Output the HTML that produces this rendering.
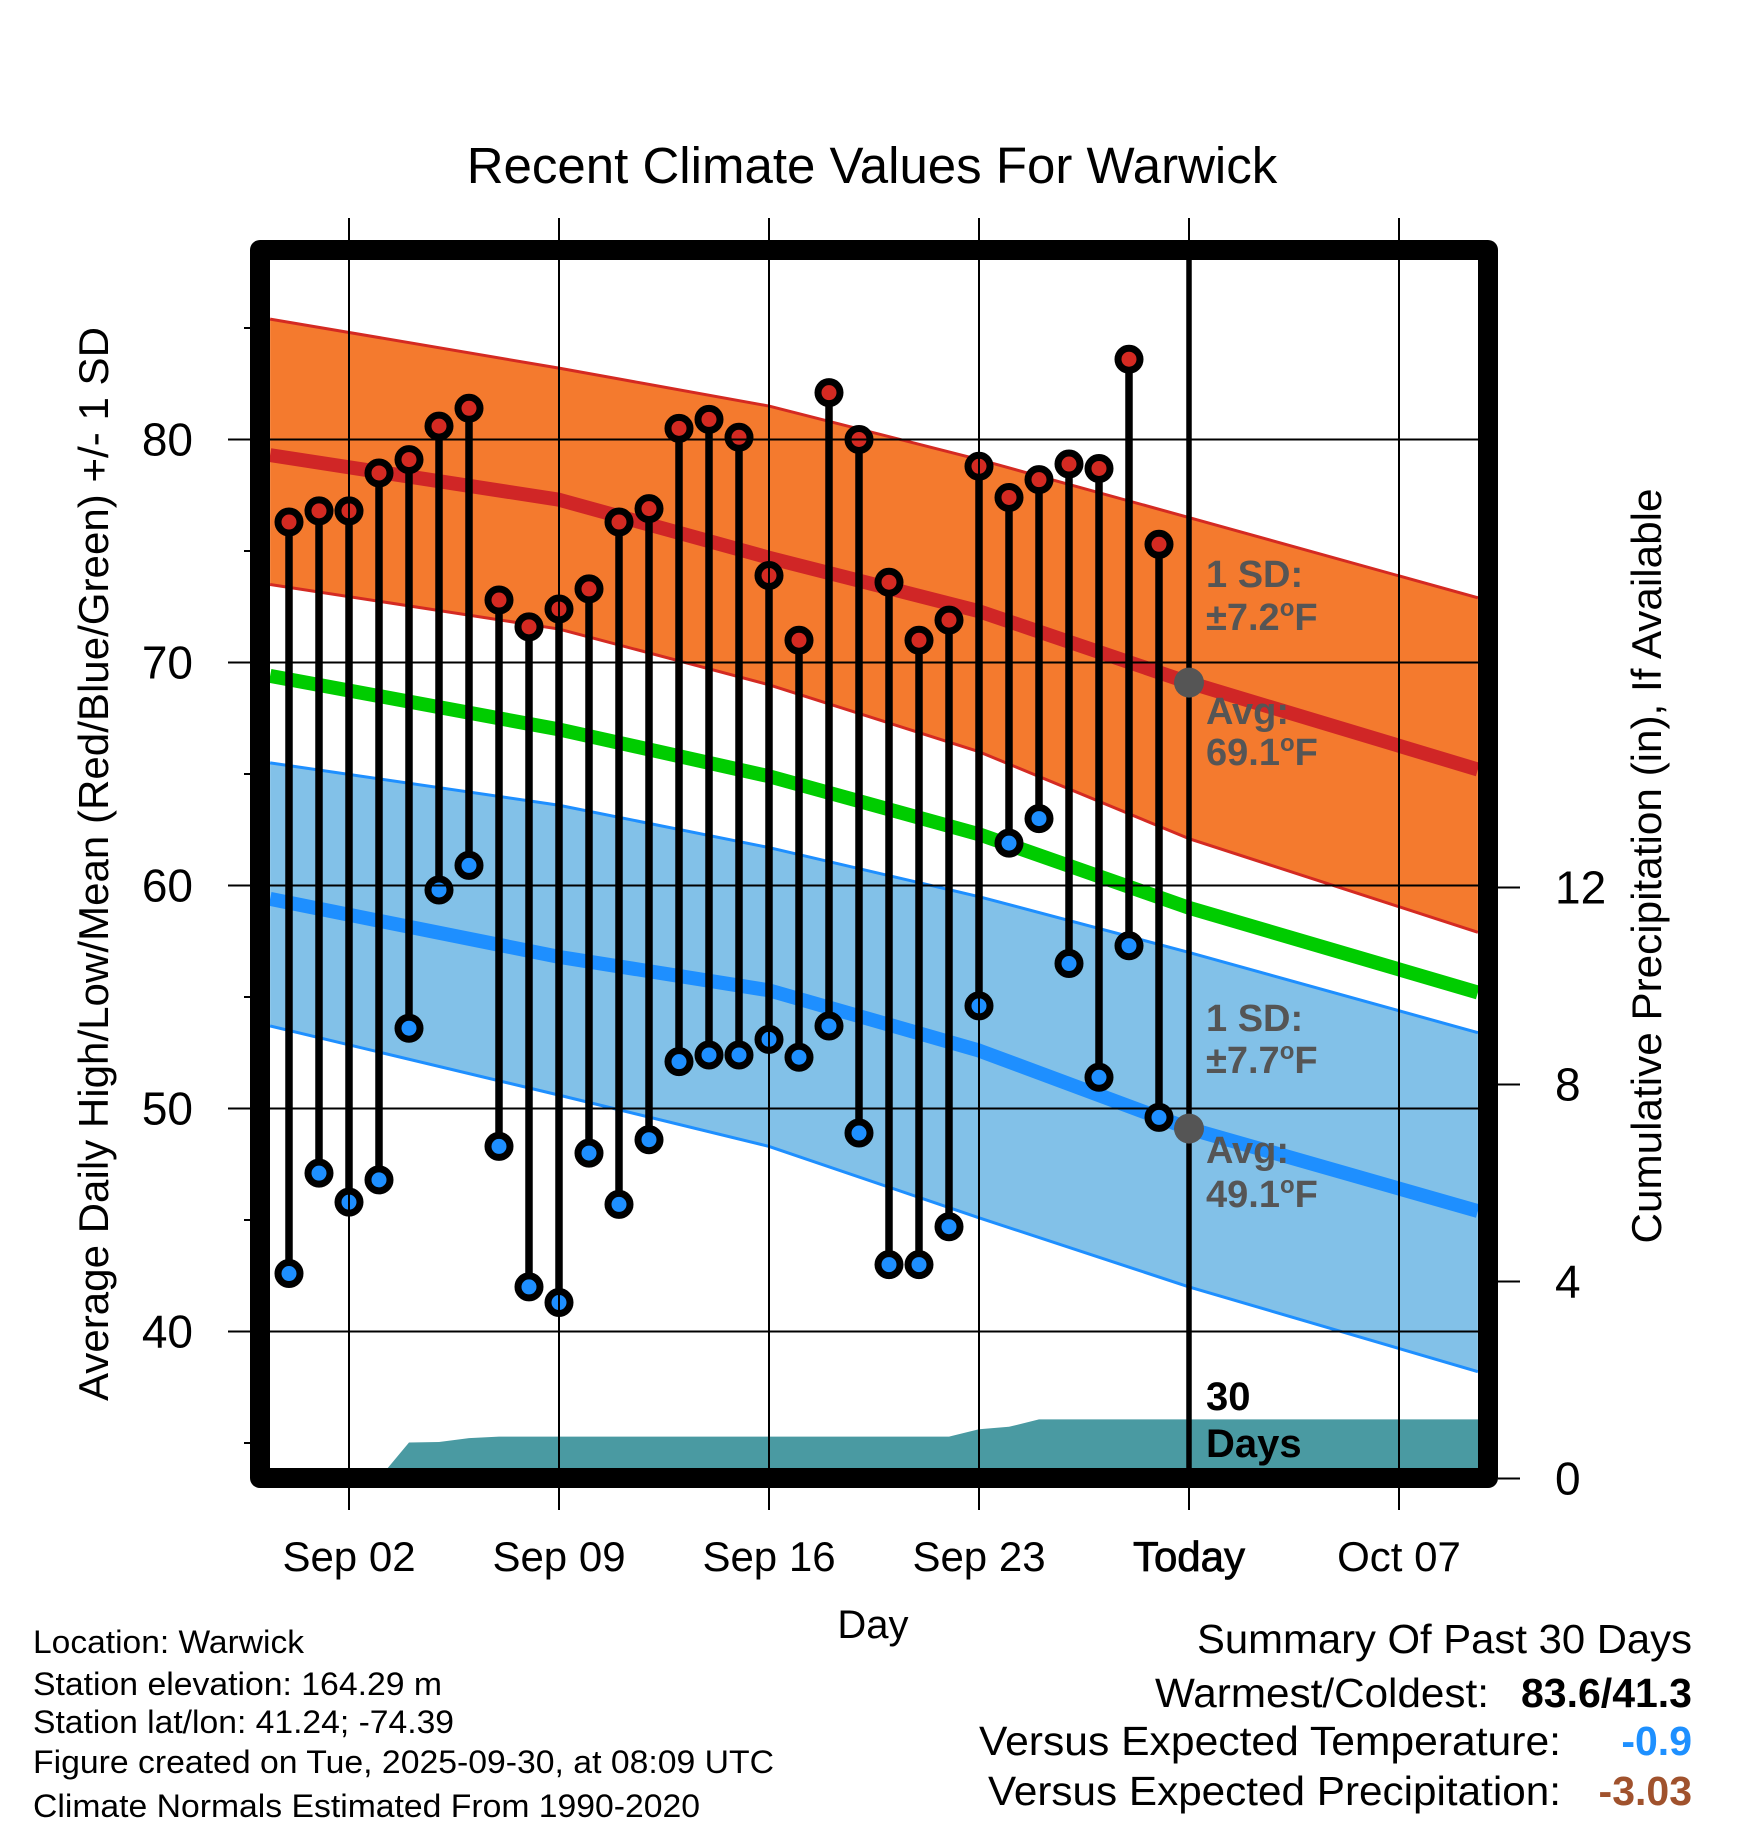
<!DOCTYPE html>
<html><head><meta charset="utf-8"><style>
html,body{margin:0;padding:0;background:#fff;}
svg{display:block;font-family:"Liberation Sans",Arial,sans-serif;}
</style></head><body>
<svg id="chart" width="1748" height="1828" viewBox="0 0 1748 1828" xmlns="http://www.w3.org/2000/svg">
<rect width="1748" height="1828" fill="#fff"/>
<text x="872" y="183" font-size="51" text-anchor="middle">Recent Climate Values For Warwick</text>
<g id="layer"></g>
</svg>
<script>
// ---- data ----
const highs = [76.3,76.8,76.8,78.5,79.1,80.6,81.4,72.8,71.6,72.4,73.3,76.3,76.9,80.5,80.9,80.1,73.9,71.0,82.1,80.0,73.6,71.0,71.9,78.8,77.4,78.2,78.9,78.7,83.6,75.3];
const lows  = [42.6,47.1,45.8,46.8,53.6,59.8,60.9,48.3,42.0,41.3,48.0,45.7,48.6,52.1,52.4,52.4,53.1,52.3,53.7,48.9,43.0,43.0,44.7,54.6,61.9,63.0,56.5,51.4,57.3,49.6];
const precip = [0,0,0,0,0.73,0.74,0.82,0.85,0.85,0.85,0.85,0.85,0.85,0.85,0.85,0.85,0.85,0.85,0.85,0.85,0.85,0.85,0.85,1.0,1.05,1.2,1.2,1.2,1.2,1.2];
const normDays   = [-0.63, 9, 16, 23, 30, 39.63];
const normHigh   = [79.3, 77.3, 74.7, 72.3, 69.1, 65.2];
const normHighUp = [85.4, 83.2, 81.5, 79.1, 76.5, 72.9];
const normHighLo = [73.5, 71.5, 69.0, 66.0, 62.1, 57.9];
const normMean   = [69.4, 67.0, 64.9, 62.3, 59.0, 55.2];
const normLow    = [59.4, 56.8, 55.3, 52.6, 49.1, 45.4];
const normLowUp  = [65.5, 63.6, 61.7, 59.5, 57.0, 53.4];
const normLowLo  = [53.7, 50.6, 48.3, 45.1, 42.0, 38.2];
const xTickDays = [2, 9, 16, 23, 30, 37];
const xTickLabels = ["Sep 02","Sep 09","Sep 16","Sep 23","Today","Oct 07"];
const yTicks = [40, 50, 60, 70, 80];
const yMinor = [35, 45, 55, 65, 75, 85];
const pTicks = [0, 4, 8, 12];
const todayDay = 30;

// ---- axes ----
const L=270, R=1478, T=260, B=1468;
const x = d => 349 + (d-2)*30;
const y = t => 439.5 - (t-80)*22.3;
const yp = p => 1478.5 - p*49.25;
const NS="http://www.w3.org/2000/svg";
const layer=document.getElementById('layer');
function mk(tag, attrs, parent){const e=document.createElementNS(NS,tag);for(const k in attrs)e.setAttribute(k,attrs[k]);(parent||layer).appendChild(e);return e;}
const pts = (ds,vs)=>ds.map((d,i)=>x(d)+','+y(vs[i])).join(' ');

const defs=mk('defs',{});
const cp=mk('clipPath',{id:'plotclip'},defs);
mk('rect',{x:L,y:T,width:R-L,height:B-T},cp);
const plot=mk('g',{'clip-path':'url(#plotclip)'});

const bandHigh=mk('polygon',{points:pts(normDays,normHighUp)+' '+pts(normDays.slice().reverse(),normHighLo.slice().reverse()),fill:'#f47a2e'},plot);


const bandLow=mk('polygon',{points:pts(normDays,normLowUp)+' '+pts(normDays.slice().reverse(),normLowLo.slice().reverse()),fill:'#82c1e8'},plot);


[[normHighUp,'#d42a22','high-band-upper'],[normHighLo,'#d42a22','high-band-lower'],[normLowUp,'#1e8fff','low-band-upper'],[normLowLo,'#1e8fff','low-band-lower']].forEach(a=>{
  const e=mk('polyline',{points:pts(normDays,a[0]),fill:'none',stroke:a[1],'stroke-width':3,'stroke-linejoin':'round'},plot);
  
  
});

yTicks.forEach(t=>{
  const g=mk('line',{x1:228,x2:R,y1:y(t),y2:y(t),stroke:'#000','stroke-width':2});
  
  
  const lb=mk('text',{x:193,y:y(t)+16,'font-size':46,'text-anchor':'end'});
  lb.textContent=t;
  
  
});
yMinor.forEach(t=>{
  const g=mk('line',{x1:244,x2:252,y1:y(t),y2:y(t),stroke:'#000','stroke-width':2});
  
  
});
xTickDays.forEach((d,i)=>{
  const g=mk('line',{x1:x(d),x2:x(d),y1:218,y2:1510,stroke:'#000','stroke-width':2});
  
  
  const lb=mk('text',{x:x(d),y:1571,'font-size':42,'text-anchor':'middle'});
  if(d===todayDay){lb.setAttribute('stroke','#000');lb.setAttribute('stroke-width','0.8');}
  lb.textContent=xTickLabels[i];
  
  
});
pTicks.forEach(p=>{
  const g=mk('line',{x1:1498,x2:1520,y1:yp(p),y2:yp(p),stroke:'#000','stroke-width':2});
  
  
  const lb=mk('text',{x:1555,y:yp(p)+16,'font-size':46});
  lb.textContent=p;
  
  
});

[[normHigh,'#d02626','normal-high-line'],[normMean,'#00cc00','normal-mean-line'],[normLow,'#1e8fff','normal-low-line']].forEach(a=>{
  const e=mk('polyline',{points:pts(normDays,a[0]),fill:'none',stroke:a[1],'stroke-width':14,'stroke-linejoin':'round'},plot);
  
  
});

let pp = L+','+B+' ';
precip.forEach((p,i)=>{pp+=x(i)+','+yp(p)+' ';});
pp += R+','+yp(precip[precip.length-1])+' '+R+','+B;
const area=mk('polygon',{points:pp,fill:'#4a9aa2'},plot);



highs.forEach((h,i)=>{
  const s=mk('line',{x1:x(i),x2:x(i),y1:y(h),y2:y(lows[i]),stroke:'#000','stroke-width':7.5},plot);
  
  
  const ch=mk('circle',{cx:x(i),cy:y(h),r:11,fill:'#d42a22',stroke:'#000','stroke-width':7},plot);
  
  
  const cl=mk('circle',{cx:x(i),cy:y(lows[i]),r:11,fill:'#1e8fff',stroke:'#000','stroke-width':7},plot);
  
  
});

const tl=mk('line',{x1:x(todayDay),x2:x(todayDay),y1:T,y2:B,stroke:'#000','stroke-width':5.5});


[[normHigh,'today-avg-high-dot'],[normLow,'today-avg-low-dot']].forEach(a=>{
  const c=mk('circle',{cx:x(todayDay),cy:y(a[0][4]),r:15,fill:'#555'});
  
  
});

function ann(lines, name, fs){
  const g=mk('g',{});
  
  
  lines.forEach(l=>{
    const t=mk('text',{x:1206,y:l[1],'font-size':fs,'font-weight':'bold',fill:l[2]||'#555'},g);
    if(l[0].indexOf('°')>=0){
      const parts=l[0].split('°');
      t.appendChild(document.createTextNode(parts[0]));
      const s=mk('tspan',{'font-size':24,dy:-14},t);s.textContent='o';
      const s2=mk('tspan',{dy:14},t);s2.textContent=parts[1];
    } else t.textContent=l[0];
  });
}
ann([["1 SD:",587],["±7.2°F",630],["Avg:",724],["69.1°F",765]],'high-annotation',38);
ann([["1 SD:",1031],["±7.7°F",1073],["Avg:",1163],["49.1°F",1207]],'low-annotation',38);
ann([["30",1410,'#000'],["Days",1457,'#000']],'precip-days-label',40);

const fr=mk('rect',{x:260,y:250,width:1228,height:1228,fill:'none',stroke:'#000','stroke-width':20,'stroke-linejoin':'round'});


</script>
<script>
(function(){
const svg=document.getElementById('chart');
const NS="http://www.w3.org/2000/svg";
function t(attrs, txt, name){const e=document.createElementNS(NS,'text');for(const k in attrs)e.setAttribute(k,attrs[k]);e.textContent=txt;


svg.appendChild(e);return e;}
t({x:0,y:0,'font-size':42,'text-anchor':'middle',transform:'translate(108,864) rotate(-90)',textLength:1074,lengthAdjust:'spacingAndGlyphs'},'Average Daily High/Low/Mean (Red/Blue/Green) +/- 1 SD','y-axis-title');
t({x:0,y:0,'font-size':42,'text-anchor':'middle',transform:'translate(1661,866) rotate(-90)',textLength:755,lengthAdjust:'spacingAndGlyphs'},'Cumulative Precipitation (in), If Available','precip-axis-title');
t({x:873,y:1638,'font-size':40,'text-anchor':'middle'},'Day','x-axis-title');
const left=[["Location: Warwick",1653,271],["Station elevation: 164.29 m",1695,409],["Station lat/lon: 41.24; -74.39",1733,421],["Figure created on Tue, 2025-09-30, at 08:09 UTC",1773,741],["Climate Normals Estimated From 1990-2020",1817,667]];
left.forEach(l=>t({x:33,y:l[1],'font-size':32,textLength:l[2],lengthAdjust:'spacingAndGlyphs'},l[0],'footer-info-line'));
t({x:1692,y:1653,'font-size':41,'text-anchor':'end',textLength:495,lengthAdjust:'spacingAndGlyphs'},'Summary Of Past 30 Days','summary-title');
t({x:1489,y:1707,'font-size':41,'text-anchor':'end',textLength:334,lengthAdjust:'spacingAndGlyphs'},'Warmest/Coldest:','warmest-coldest-label');
t({x:1692,y:1707,'font-size':41,'text-anchor':'end','font-weight':'bold'},'83.6/41.3','warmest-coldest-value');
t({x:1561,y:1755,'font-size':41,'text-anchor':'end',textLength:582,lengthAdjust:'spacingAndGlyphs'},'Versus Expected Temperature:','temp-anomaly-label');
t({x:1692,y:1755,'font-size':41,'text-anchor':'end','font-weight':'bold',fill:'#1e90ff'},'-0.9','temp-anomaly-value');
t({x:1561,y:1805,'font-size':41,'text-anchor':'end',textLength:573,lengthAdjust:'spacingAndGlyphs'},'Versus Expected Precipitation:','precip-anomaly-label');
t({x:1692,y:1805,'font-size':41,'text-anchor':'end','font-weight':'bold',fill:'#a0522d'},'-3.03','precip-anomaly-value');
})();
</script>
</body></html>
